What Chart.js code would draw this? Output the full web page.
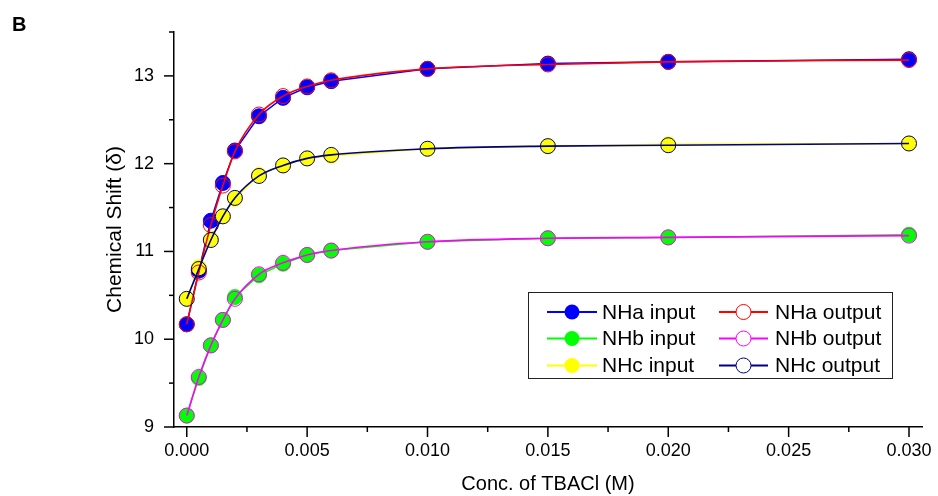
<!DOCTYPE html>
<html>
<head>
<meta charset="utf-8">
<script src="https://cdn.jsdelivr.net/npm/chart.js@4"></script>
<style>
  html, body { margin: 0; padding: 0; background: #fff; }
  #wrap { width: 938px; height: 496px; }
</style>
</head>
<body>
<div id="wrap"><canvas id="shift-chart" width="938" height="496"></canvas></div>
<script>
// TBACl concentration (M)
const conc = [0, 0.0005, 0.001, 0.0015, 0.002, 0.003, 0.004, 0.005, 0.006, 0.010, 0.015, 0.020, 0.030];

// measured shifts
const nhaInput = [10.17, 10.78, 11.35, 11.78, 12.15, 12.54, 12.75, 12.87, 12.94, 13.08, 13.14, 13.16, 13.19];
const nhbInput = [9.13, 9.56, 9.93, 10.22, 10.48, 10.73, 10.86, 10.96, 11.01, 11.11, 11.15, 11.16, 11.19];
const nhcInput = [10.46, 10.82, 11.14, 11.40, 11.60, 11.87, 11.98, 12.06, 12.09, 12.17, 12.20, 12.22, 12.23];

// fitted shifts
const nhaOutput = [10.17, 10.76, 11.30, 11.75, 12.14, 12.56, 12.77, 12.88, 12.95, 13.08, 13.13, 13.16, 13.18];
const nhbOutput = [9.13, 9.57, 9.93, 10.22, 10.46, 10.74, 10.87, 10.96, 11.01, 11.11, 11.15, 11.16, 11.18];
const nhcOutput = [10.46, 10.80, 11.13, 11.40, 11.61, 11.86, 11.98, 12.06, 12.10, 12.17, 12.20, 12.21, 12.23];

// axis ticks
const xTickValues = [0, 0.005, 0.010, 0.015, 0.020, 0.025, 0.030];
const xMinorTicks = [0.0025, 0.0075, 0.0125, 0.0175, 0.0225, 0.0275];
const yTickValues = [9, 10, 11, 12, 13];
const yMinorTicks = [9.5, 10.5, 11.5, 12.5, 13.5];

const FONT = '"Liberation Sans", Arial, sans-serif';

function toPoints(values) {
  return conc.map((c, i) => ({ x: c, y: values[i] }));
}

function inputSet(label, values, color, order) {
  return {
    label: label,
    data: toPoints(values),
    showLine: true,
    borderColor: color,
    borderWidth: 1.5,
    pointRadius: 7.5,
    pointBackgroundColor: color,
    pointBorderColor: color,
    pointBorderWidth: 1,
    order: order,
    filled: true
  };
}

function outputSet(label, values, color, order) {
  return {
    label: label,
    data: toPoints(values),
    showLine: true,
    cubicInterpolationMode: 'monotone',
    borderColor: color,
    borderWidth: 1.6,
    pointRadius: 7.5,
    pointBackgroundColor: 'rgba(0,0,0,0)',
    pointBorderColor: color,
    pointBorderWidth: 1,
    order: order,
    filled: false
  };
}

// outward tick marks, long for labelled values, short for the halves
const tickMarks = {
  id: 'tickMarks',
  afterDraw(chart) {
    const { ctx, chartArea, scales } = chart;
    ctx.save();
    ctx.strokeStyle = '#000';
    ctx.lineWidth = 1.5;
    const drawY = (v, len) => {
      const y = scales.y.getPixelForValue(v);
      ctx.beginPath();
      ctx.moveTo(chartArea.left, y);
      ctx.lineTo(chartArea.left - len, y);
      ctx.stroke();
    };
    const drawX = (v, len) => {
      const x = scales.x.getPixelForValue(v);
      ctx.beginPath();
      ctx.moveTo(x, chartArea.bottom);
      ctx.lineTo(x, chartArea.bottom + len);
      ctx.stroke();
    };
    yTickValues.forEach(v => drawY(v, 10));
    yMinorTicks.forEach(v => drawY(v, 5));
    xTickValues.forEach(v => drawX(v, 10));
    xMinorTicks.forEach(v => drawX(v, 5));

    // panel letter
    ctx.fillStyle = '#000';
    ctx.font = 'bold 20px ' + FONT;
    ctx.textBaseline = 'alphabetic';
    ctx.fillText('B', 12, 31);
    ctx.restore();
  }
};

// two-column boxed legend, inputs left and outputs right
const boxLegend = {
  id: 'boxLegend',
  afterDraw(chart) {
    const { ctx } = chart;
    const sets = chart.data.datasets;
    const rows = [312, 338.5, 365.5];
    const cols = [
      { x1: 547, x2: 597, text: 602 },
      { x1: 719, x2: 768, text: 775 }
    ];
    ctx.save();
    ctx.fillStyle = '#fff';
    ctx.fillRect(528.5, 292.5, 364, 86);
    ctx.strokeStyle = '#222';
    ctx.lineWidth = 1;
    ctx.strokeRect(528.5, 292.5, 364, 86);
    ctx.font = '21px ' + FONT;
    ctx.textBaseline = 'middle';
    sets.forEach((ds, i) => {
      const col = cols[i % 2];
      const y = rows[Math.floor(i / 2)];
      ctx.strokeStyle = ds.borderColor;
      ctx.lineWidth = 2;
      ctx.beginPath();
      ctx.moveTo(col.x1, y);
      ctx.lineTo(col.x2, y);
      ctx.stroke();
      const cx = (col.x1 + col.x2) / 2;
      ctx.beginPath();
      ctx.arc(cx, y, 7.5, 0, Math.PI * 2);
      if (ds.filled) {
        ctx.fillStyle = ds.pointBackgroundColor;
        ctx.fill();
      } else {
        ctx.fillStyle = '#fff';
        ctx.fill();
        ctx.lineWidth = 1;
        ctx.strokeStyle = ds.pointBorderColor;
        ctx.stroke();
      }
      ctx.fillStyle = '#000';
      ctx.fillText(ds.label, col.text, y + 1);
    });
    ctx.restore();
  }
};

const ctx = document.getElementById('shift-chart').getContext('2d');

new Chart(ctx, {
  type: 'scatter',
  data: {
    datasets: [
      inputSet('NHa input', nhaInput, '#0000ff', 6),
      outputSet('NHa output', nhaOutput, '#ff0000', 3),
      inputSet('NHb input', nhbInput, '#00ff00', 5),
      outputSet('NHb output', nhbOutput, '#ff00ff', 2),
      inputSet('NHc input', nhcInput, '#ffff00', 4),
      outputSet('NHc output', nhcOutput, '#000080', 1)
    ]
  },
  options: {
    responsive: false,
    animation: false,
    clip: false,
    layout: {
      padding: { left: 0, right: 16, top: 32, bottom: 0 }
    },
    plugins: {
      legend: { display: false },
      tooltip: { enabled: false }
    },
    scales: {
      x: {
        type: 'linear',
        min: -0.00053,
        max: 0.03054,
        afterBuildTicks: scale => {
          scale.ticks = xTickValues.map(v => ({ value: v }));
        },
        afterFit: scale => {
          scale.height = 69;
          scale.paddingLeft = 0;
          scale.paddingRight = 0;
        },
        grid: { display: false, drawTicks: false },
        border: { display: true, color: '#000', width: 1.5 },
        ticks: {
          autoSkip: false,
          maxRotation: 0,
          padding: 13,
          color: '#000',
          font: { family: FONT, size: 18 },
          callback: v => v.toFixed(3)
        },
        title: {
          display: true,
          text: 'Conc. of TBACl (M)',
          color: '#000',
          font: { family: FONT, size: 20 },
          padding: { top: 0, bottom: 0 }
        }
      },
      y: {
        min: 9,
        max: 13.5,
        afterBuildTicks: scale => {
          scale.ticks = yTickValues.map(v => ({ value: v }));
        },
        afterFit: scale => {
          scale.width = 174;
          scale.paddingTop = 0;
          scale.paddingBottom = 0;
        },
        grid: { display: false, drawTicks: false },
        border: { display: true, color: '#000', width: 1.5 },
        ticks: {
          autoSkip: false,
          padding: 20,
          color: '#000',
          font: { family: FONT, size: 18 },
          callback: v => v.toFixed(0)
        },
        title: {
          display: true,
          text: 'Chemical Shift (\u03b4)',
          color: '#000',
          font: { family: FONT, size: 21 },
          padding: { top: 103, bottom: 0 }
        }
      }
    }
  },
  plugins: [tickMarks, boxLegend]
});
</script>
</body>
</html>
